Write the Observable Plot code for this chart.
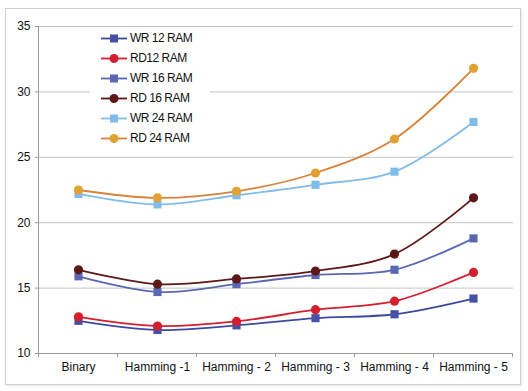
<!DOCTYPE html>
<html>
<head>
<meta charset="utf-8">
<script src="https://cdn.jsdelivr.net/npm/d3@7"></script>
<script src="https://cdn.jsdelivr.net/npm/@observablehq/plot@0.6"></script>
<style>
  html, body { margin: 0; padding: 0; background: #fff; }
  #wrap { position: relative; width: 528px; height: 391px; overflow: hidden; font-family: "Liberation Sans", Arial, sans-serif; }
  #wrap svg.plot { position: absolute; left: 0; top: 0; }
  #frame { position: absolute; left: 5px; top: 8px; width: 514px; height: 375px; border: 1px solid #cfcfcf; box-shadow: 1px 1px 2px #e6e6e6; pointer-events: none; }
  #legend { position: absolute; left: 90px; top: 27px; width: 120px; height: 122px; background: #fff; }
  .row { position: absolute; left: 0; height: 20px; display: flex; align-items: center; }
  .row svg { display: block; margin-left: 11px; }
  .row span { font-size: 12px; letter-spacing: -0.5px; color: #111; margin-left: 2px; }
</style>
</head>
<body>
<div id="wrap">
  <div id="frame"></div>
</div>
<script>
const categories = ["Binary", "Hamming -1", "Hamming - 2", "Hamming - 3", "Hamming - 4", "Hamming - 5"];
const seriesNames = ["WR 12 RAM", "RD12 RAM", "WR 16 RAM", "RD 16 RAM", "WR 24 RAM", "RD 24 RAM"];
const wr12 = [12.5, 11.8, 12.15, 12.7, 13.0, 14.2];
const rd12 = [12.8, 12.1, 12.45, 13.35, 14.0, 16.2];
const wr16 = [15.9, 14.7, 15.3, 16.0, 16.4, 18.8];
const rd16 = [16.4, 15.3, 15.7, 16.3, 17.6, 21.9];
const wr24 = [22.2, 21.4, 22.1, 22.9, 23.9, 27.7];
const rd24 = [22.5, 21.9, 22.4, 23.8, 26.4, 31.8];
const yTicks = [10, 15, 20, 25, 30, 35];

const seriesValues = [wr12, rd12, wr16, rd16, wr24, rd24];
const markerColors = ["#4650a4", "#d41f2e", "#5a68b4", "#5c1717", "#80bce9", "#e2a133"];
const lineColors   = ["#3c4a9c", "#d41f2e", "#5a68b4", "#5c1717", "#80bce9", "#d8833c"];
const symbols      = ["square", "circle", "square", "circle", "square", "circle"];

const data = [];
seriesNames.forEach((s, si) => {
  categories.forEach((c, ci) => data.push({series: s, cat: c, value: seriesValues[si][ci]}));
});

const plot = Plot.plot({
  width: 528,
  height: 391,
  marginLeft: 38,
  marginRight: 15,
  marginTop: 26,
  marginBottom: 38,
  style: {fontFamily: "Liberation Sans, Arial, sans-serif", fontSize: "12px", color: "#111", background: "transparent"},
  x: {type: "point", domain: categories, padding: 0.5},
  y: {domain: [10, 35]},
  color: {domain: seriesNames, range: lineColors},
  symbol: {domain: seriesNames, range: symbols},
  marks: [
    Plot.ruleY(yTicks.filter(d => d > 10), {stroke: "#c4c4c4", strokeWidth: 1}),
    Plot.axisY({ticks: yTicks, tickSize: 3, tickPadding: 5, stroke: "#999", label: null, fontSize: 12}),
    Plot.ruleY([10], {stroke: "#999"}),
    Plot.axisX({tickSize: 0, tickPadding: 9, label: null, fontSize: 12}),
    Plot.line(data, {x: "cat", y: "value", z: "series", stroke: "series", strokeWidth: 1.8, curve: "catmull-rom"}),
    Plot.dot(data, {x: "cat", y: "value", symbol: "series", r: 4.6,
      fill: d => markerColors[seriesNames.indexOf(d.series)], stroke: "none"})
  ]
});
plot.classList.add("plot");
const wrap = document.getElementById("wrap");
wrap.insertBefore(plot, document.getElementById("frame"));

// left axis line and bottom category-boundary ticks, derived from scales
const xs = plot.scale("x"), ys = plot.scale("y");
const svg = d3.select(plot);
const pos = categories.map(c => xs.apply(c));
const step = pos[1] - pos[0];
const y0 = ys.apply(10), y1 = ys.apply(35);
const g = svg.append("g").attr("stroke", "#999").attr("stroke-width", 1);
g.append("line").attr("x1", pos[0] - step / 2).attr("x2", pos[0] - step / 2).attr("y1", y1).attr("y2", y0 + 4);
pos.forEach(p => {
  g.append("line").attr("x1", p + step / 2).attr("x2", p + step / 2).attr("y1", y0).attr("y2", y0 + 4);
});

// legend
const legend = document.createElement("div");
legend.id = "legend";
seriesNames.forEach((s, i) => {
  const row = document.createElement("div");
  row.className = "row";
  row.style.top = (1 + i * 20) + "px";
  const marker = symbols[i] === "square"
    ? `<rect x="9" y="3.5" width="8" height="8" fill="${markerColors[i]}"/>`
    : `<circle cx="13" cy="7.5" r="4.5" fill="${markerColors[i]}"/>`;
  row.innerHTML = `<svg width="27" height="15"><line x1="0" x2="26" y1="7.5" y2="7.5" stroke="${lineColors[i]}" stroke-width="1.8"/>${marker}</svg><span>${s}</span>`;
  legend.appendChild(row);
});
wrap.appendChild(legend);
</script>
</body>
</html>
